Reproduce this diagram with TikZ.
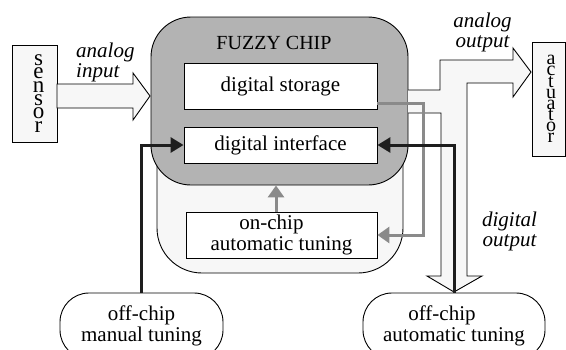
\documentclass[tikz,border=0pt]{standalone}
\usepackage{fontspec}
\setmainfont{Liberation Serif}
\usetikzlibrary{arrows.meta}
\definecolor{chipgray}{HTML}{B3B3B3}
\definecolor{paper}{HTML}{F7F7F7}
\definecolor{wire}{HTML}{1E1E1E}
\definecolor{tunewire}{HTML}{8A8A8A}
% one letter of a vertical device name, nudged right
\newcommand\stackletter[2]{\hspace*{#1}#2}

\begin{document}
% stacked letters keep a fixed pitch
\lineskiplimit=-20pt
\begin{tikzpicture}[x=1pt,y=-1pt,
  outline/.style={draw=black,line width=0.9pt},
  box/.style={outline,fill=white,inner sep=0pt,align=center,
    font=\fontsize{21}{21}\selectfont},
  stackbox/.style={outline,fill=paper,inner sep=0pt,align=center},
  stadium/.style={outline,fill=white,rounded corners=29pt,inner sep=0pt,
    align=center,font=\fontsize{21}{21}\selectfont},
  tag/.style={inner sep=0pt,font=\fontsize{21}{20}\selectfont\itshape},
  hard/.style={draw=wire,line width=3pt,-{Triangle[length=13pt,width=15pt]}},
  soft/.style={draw=tunewire,line width=3pt,-{Triangle[length=12pt,width=16pt]}},
]
\useasboundingbox (0,0) rectangle (566,349);
\clip (0,0) rectangle (566,349);

% chip body: pale tuning tray behind the grey core
\node[outline,fill=paper,rounded corners=45pt,minimum width=246pt,
  minimum height=213pt] (tray) at (280,166.5) {};
\node[outline,fill=chipgray,rounded corners=40pt,minimum width=257pt,
  minimum height=168pt] (chip) at (279.5,101) {};
\node[font=\fontsize{20}{20}\selectfont] (chiptitle) at (274,43) {FUZZY CHIP};

% forked output channel: analog to the right, digital downwards
\fill[paper] (408,90) -- (440,90) -- (440,60) -- (513,60) -- (513,48)
  -- (531,72) -- (513,97) -- (513,83) -- (467,83) -- (467,276) -- (482,276)
  -- (454,292) -- (427,276) -- (441,276) -- (441,113) -- (408,113) -- cycle;
\draw[outline] (408,90) -- (440,90) -- (440,60) -- (513,60) -- (513,48)
  -- (531,72) -- (513,97) -- (513,83) -- (467,83) -- (467,276) -- (482,276)
  -- (454,292) -- (427,276) -- (441,276) -- (441,113) -- (408,113);

% inner blocks
\node[box,minimum width=193pt,minimum height=46pt] (storage) at (280.5,86)
  {digital storage};
\node[box,minimum width=193pt,minimum height=36pt] (iface) at (280.5,145)
  {digital interface};
\node[box,minimum width=191pt,minimum height=46pt] (onchip) at (281.5,235)
  {on-chip\hspace*{20pt}\\automatic tuning};

% sensor and actuator
\node[stackbox,minimum width=45pt,minimum height=97pt,
  font=\fontsize{23}{13.3}\selectfont] (sensor) at (34.5,93.5)
  {\stackletter{8pt}{s}\\\stackletter{8pt}{e}\\\stackletter{8pt}{n}\\
   \stackletter{8pt}{s}\\\stackletter{8pt}{o}\\\stackletter{8pt}{r}};
\node[stackbox,minimum width=33pt,minimum height=114pt,
  font=\fontsize{20}{11.1}\selectfont] (actuator) at (548.5,99)
  {\stackletter{5pt}{a}\\\stackletter{5pt}{c}\\\stackletter{5pt}{t}\\
   \stackletter{5pt}{u}\\\stackletter{5pt}{a}\\\stackletter{5pt}{t}\\
   \stackletter{5pt}{o}\\\stackletter{5pt}{r}};

% analog input arrow
\filldraw[outline,fill=paper] (57,84) -- (133,84) -- (133,73) -- (150,96)
  -- (133,120) -- (133,108) -- (57,108) -- cycle;

% off-chip tuning
\node[stadium,minimum width=163pt,minimum height=66pt] (manual)
  at (141.5,326) {off-chip\\manual tuning};
\node[stadium,minimum width=182pt,minimum height=66pt] (auto)
  at (454,326) {off-chip\hspace*{24pt}\\automatic tuning};

% labels
\node[tag,align=left,anchor=west] (inlabel) at (76,62) {analog\\input};
\node[tag,align=center] (outlabel) at (482.5,32) {analog\\output};
\node[tag,align=center] (dlabel) at (509.5,231) {digital\\output};

% tuning connections
\draw[soft] (storage.east |- 0,103) -- (423,103) |- (onchip.east);
\draw[soft] (onchip.north -| 276,0) -- (chip.south -| 276,0);
\draw[hard] (manual.north) |- (iface.west);
\draw[hard] (auto.north) |- (iface.east);
\end{tikzpicture}
\end{document}
